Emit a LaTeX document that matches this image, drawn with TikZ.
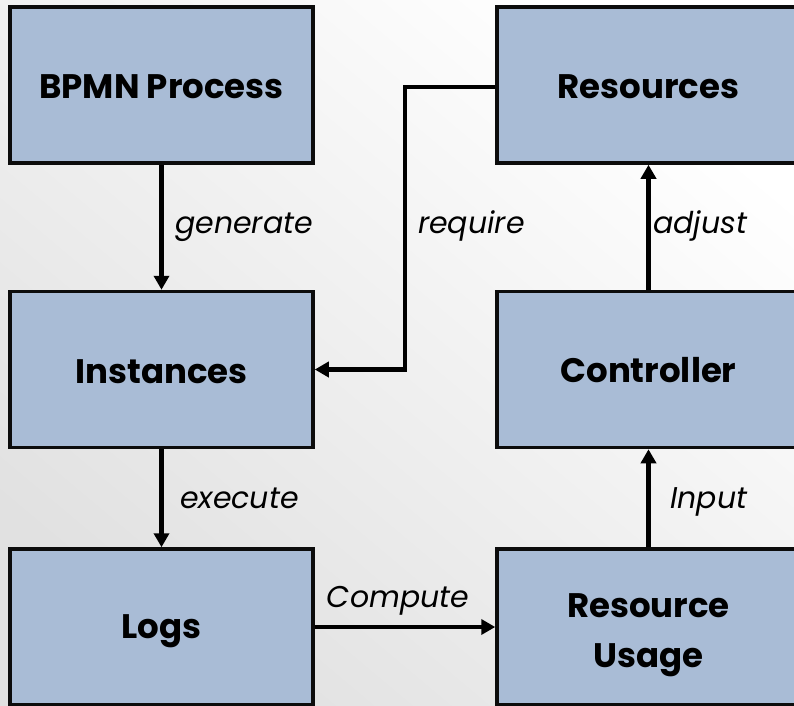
\documentclass[tikz,border=0pt]{standalone}
\usepackage{fontspec}
\setmainfont{Poppins}
\usetikzlibrary{arrows.meta}

\definecolor{boxfill}{RGB}{169,188,214}
\definecolor{bgdark}{RGB}{225,225,225}
\definecolor{edge}{RGB}{12,12,12}

% lower a box's contents while keeping its declared size
\newcommand{\dropby}[2]{\raisebox{-#1}[\height][\depth]{#2}}

\tikzset{
  block/.style={draw=edge, line width=3.5pt, fill=boxfill,
    minimum width=303pt, minimum height=156pt, inner sep=0pt,
    align=center, font=\fontsize{34}{50}\selectfont\bfseries},
  link/.style={draw=black, line width=4.5pt,
    -{Triangle[length=14pt,width=15pt]}},
  tag/.style={font=\fontsize{30}{34}\selectfont\itshape, inner sep=0pt}
}

\begin{document}
\begin{tikzpicture}[x=1pt,y=-1pt]
  \useasboundingbox (0,0) rectangle (794,705);
  \clip (0,0) rectangle (794,705);
  % soft diagonal backdrop
  \shade[top color=white, bottom color=bgdark, shading angle=-40]
    (0,0) rectangle (794,705);

  % boxes
  \node[block] (bpmn) at (161.5,85)    {\dropby{2pt}{BPMN Process}};
  \node[block] (inst) at (161.5,369.5) {\dropby{2pt}{Instances}};
  \node[block] (logs) at (161.5,627)   {\dropby{4pt}{Logs}};
  \node[block] (res)  at (648.5,85)    {\dropby{2pt}{Resources}};
  \node[block] (ctrl) at (648.5,369.5) {\dropby{1pt}{Controller}};
  \node[block] (use)  at (648.5,627)
    {\dropby{5pt}{\begin{tabular}{@{}c@{}}Resource\\Usage\end{tabular}}};

  % connectors
  \draw[link] (bpmn) -- (inst);
  \draw[link] (inst) -- (logs);
  \draw[link] (logs) -- (use);
  \draw[link] (use)  -- (ctrl);
  \draw[link] (ctrl) -- (res);
  \coordinate (bend) at (405,87);
  \draw[link] (res.west |- bend) -- (bend) |- (inst.east);

  % labels
  \node[tag, anchor=base west] (lgen) at (175,233) {generate};
  \node[tag, anchor=base west] (lexe) at (180,508) {execute};
  \node[tag, anchor=base] (lcmp) at (398,607) {Compute};
  \node[tag, anchor=base west] (lreq) at (418,233) {require};
  \node[tag, anchor=base west] (ladj) at (653,233) {adjust};
  \node[tag, anchor=base west] (linp) at (670,508) {Input};
\end{tikzpicture}
\end{document}
